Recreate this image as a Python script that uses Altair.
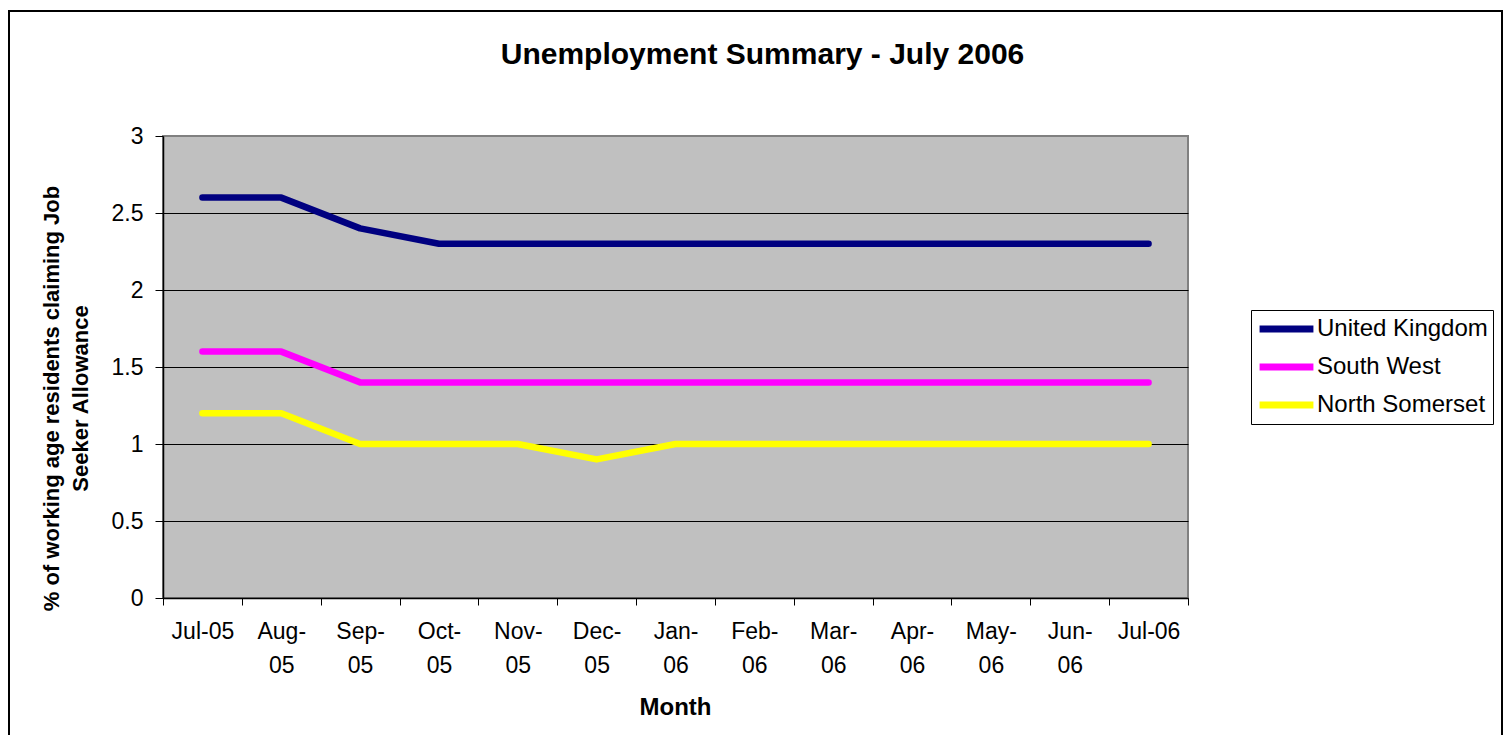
import altair as alt
import pandas as pd

months = ["Jul-05", "Aug-05", "Sep-05", "Oct-05", "Nov-05", "Dec-05", "Jan-06",
          "Feb-06", "Mar-06", "Apr-06", "May-06", "Jun-06", "Jul-06"]
series_names = ["United Kingdom", "South West", "North Somerset"]
series_colors = ["#000080", "#FF00FF", "#FFFF00"]
uk = [2.6, 2.6, 2.4, 2.3, 2.3, 2.3, 2.3, 2.3, 2.3, 2.3, 2.3, 2.3, 2.3]
south_west = [1.6, 1.6, 1.4, 1.4, 1.4, 1.4, 1.4, 1.4, 1.4, 1.4, 1.4, 1.4, 1.4]
north_somerset = [1.2, 1.2, 1.0, 1.0, 1.0, 0.9, 1.0, 1.0, 1.0, 1.0, 1.0, 1.0, 1.0]
y_ticks = [0, 0.5, 1, 1.5, 2, 2.5, 3]

rows = []
for name, vals in zip(series_names, [uk, south_west, north_somerset]):
    for m, v in zip(months, vals):
        rows.append({"month": m, "series": name, "value": v})
df = pd.DataFrame(rows)

FONT = "Liberation Sans"

label_expr = (
    "!isString(datum.label) || indexof(datum.label, '-') < 0 || indexof(datum.label, 'Jul-') == 0"
    " ? datum.label : [split(datum.label, '-')[0] + '-', split(datum.label, '-')[1]]"
)

lines = alt.Chart(df).mark_line(
    strokeWidth=6.5, strokeCap="round", strokeJoin="round"
).encode(
    x=alt.X(
        "month:N", sort=months, bandPosition=0.5,
        scale=alt.Scale(type="band", domain=months, paddingInner=0, paddingOuter=0),
        axis=alt.Axis(
            title="Month", titleFontSize=24, titleFontWeight="bold", titleColor="black",
            titleX=512, titleY=109, titleBaseline="middle", titleAlign="center",
            labelAngle=0, labelFontSize=23, labelColor="black", labelBaseline="top",
            labelPadding=15, labelLineHeight=34, labelOverlap=False, labelBound=False,
            labelExpr=label_expr,
            tickBand="extent", tickColor="black", tickSize=7, tickWidth=1,
            domainColor="black", domainWidth=1.5, grid=False,
        ),
    ),
    y=alt.Y(
        "value:Q",
        scale=alt.Scale(domain=[0, 3], nice=False, zero=True),
        axis=alt.Axis(
            title=["% of working age residents claiming Job", "Seeker Allowance"],
            titleFontSize=22, titleFontWeight="bold", titleColor="black",
            titleAngle=270, titleX=-112, titleY=262, titleAlign="center",
            titleBaseline="middle", titleLineHeight=29,
            values=y_ticks, format="~g", labelFontSize=23, labelColor="black",
            labelPadding=12,
            tickColor="black", tickSize=8, tickWidth=1,
            domainColor="black", domainWidth=1.5,
            grid=True, gridWidth=1,
            gridColor={"condition": {"test": "datum.value >= 3", "value": "#808080"}, "value": "black"},
        ),
    ),
    color=alt.Color(
        "series:N", sort=series_names,
        scale=alt.Scale(domain=series_names, range=series_colors),
        legend=alt.Legend(
            title=None, orient="none", legendX=1088, legendY=174,
            strokeColor="black", fillColor="white", padding=5,
            labelFontSize=24, labelColor="black", labelOffset=0, labelLimit=400,
            symbolType="stroke", symbolStrokeWidth=7, symbolSize=2900,
            clipHeight=28, rowPadding=10,
        ),
    ),
)

border = alt.Chart(pd.DataFrame({"k": [0]})).mark_rect(
    fill="white", fillOpacity=0, stroke="black", strokeWidth=2, clip=False
).encode(
    x=alt.value(-154), x2=alt.value(1339), y=alt.value(-125), y2=alt.value(650)
)

chart = alt.layer(border, lines).properties(
    width=1025,
    height=462,
    padding={"left": 155, "top": 128, "right": 315, "bottom": 137},
    autosize=alt.AutoSizeParams(type="none"),
    title=alt.TitleParams(
        "Unemployment Summary - July 2006", fontSize=30, fontWeight="bold",
        color="black", anchor="middle", dx=87, dy=60, offset=0,
    ),
).configure(font=FONT).configure_view(
    fill="#C0C0C0", stroke="#808080", strokeWidth=2
)

chart.save("out.html", embed_options={"renderer": "svg", "actions": False})
